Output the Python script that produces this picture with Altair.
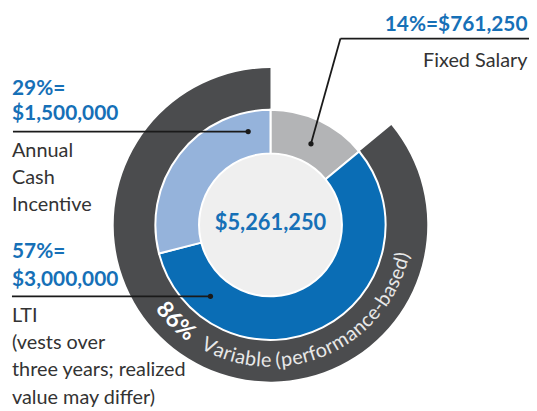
import math
import altair as alt
import pandas as pd

# ---------------- data ----------------
categories = ["Fixed Salary", "LTI", "Annual Cash Incentive"]
percents = [14, 57, 29]
amounts = [761250, 3000000, 1500000]
total_comp = 5261250
variable_pct = 86
variable_label = "Variable (performance-based)"
aci_lines = ["Annual", "Cash", "Incentive"]
lti_lines = ["LTI", "(vests over", "three years; realized", "value may differ)"]
fixed_lines = ["Fixed Salary"]

# ---------------- styles ----------------
FONT = "Lato"
BLUE_TEXT = "#1670b7"
DARK_TEXT = "#333333"
RING_COLORS = ["#b3b4b6", "#0a6db5", "#95b3db"]
DARK_RING = "#4b4c4e"
CENTER_FILL = "#efefef"
TAU = 2 * math.pi
CX, CY = 264.5, 217

# ---------------- rings ----------------
ring_df = pd.DataFrame({"cat": categories, "pct": percents, "idx": [0, 1, 2]})

outer = alt.Chart(pd.DataFrame({"start": [percents[0]], "end": [100]})).mark_arc(
    x=CX, y=CY, radius=158, radius2=116, color=DARK_RING
).encode(
    theta=alt.Theta("start:Q", scale=alt.Scale(domain=[0, 100], range=[0, TAU])),
    theta2="end:Q",
)

inner = alt.Chart(ring_df).mark_arc(
    x=CX, y=CY, radius=116, radius2=72, stroke="white", strokeWidth=2
).encode(
    theta=alt.Theta("pct:Q", stack=True, scale=alt.Scale(domain=[0, 100], range=[0, TAU])),
    color=alt.Color("cat:N", scale=alt.Scale(domain=categories, range=RING_COLORS), legend=None),
    order=alt.Order("idx:Q"),
)

disk = alt.Chart(pd.DataFrame({"v": [1]})).mark_arc(
    x=CX, y=CY, radius=71, color=CENTER_FILL
).encode(
    theta=alt.Theta("v:Q", scale=alt.Scale(domain=[0, 1], range=[0, TAU])),
)

# ---------------- curved text ----------------
W_REG = {" ": .19, "a": .50, "b": .56, "c": .46, "d": .56, "e": .53, "f": .32, "i": .24,
         "l": .24, "m": .84, "n": .56, "o": .57, "p": .56, "r": .37, "s": .43, "V": .67,
         "(": .30, ")": .30, "-": .33}
W_BOLD = {"8": .58, "6": .58, "%": .80}


def arc_layout(text, widths, size, start_deg, r):
    rows, s = [], 0.0
    for ch in text:
        w = widths.get(ch, .5) * size
        mid = s + w / 2
        th = start_deg - math.degrees(mid / r)
        if ch != " ":
            rows.append({"ch": ch, "th": th % 360, "ang": (th - 180) % 360})
        s += w
    return pd.DataFrame(rows)


R_TXT = 137
bold_df = arc_layout(f"{variable_pct}%", W_BOLD, 23, 234.0, R_TXT)
reg_df = arc_layout(variable_label, W_REG, 20, 209.8, R_TXT)


def curved(df, size, weight, color):
    return alt.Chart(df).mark_text(
        x=CX, y=CY, font=FONT, fontSize=size, fontWeight=weight, color=color,
        align="center", baseline="middle"
    ).encode(
        theta=alt.Theta("th:Q", stack=False, scale=alt.Scale(domain=[0, 360], range=[0, TAU])),
        radius=alt.value(R_TXT),
        angle=alt.Angle("ang:Q", scale=None),
        text="ch:N",
    )


curved_bold = curved(bold_df, 23, "bold", "#ffffff")
curved_reg = curved(reg_df, 20, "normal", "#e8e8e8")

# ---------------- leader lines ----------------
LINE = "#1a1a1a"


def rule(x, y, x2, y2):
    return alt.Chart().mark_rule(color=LINE, strokeWidth=1.8).encode(
        x=alt.value(x), y=alt.value(y), x2=alt.value(x2), y2=alt.value(y2))


def dot(x, y):
    return alt.Chart().mark_circle(color=LINE, size=28, opacity=1).encode(
        x=alt.value(x), y=alt.value(y))


def label(txt, x, y, size, weight, color, align="left"):
    return alt.Chart().mark_text(
        font=FONT, fontSize=size, fontWeight=weight, color=color,
        align=align, baseline="alphabetic"
    ).encode(x=alt.value(x), y=alt.value(y), text=alt.value(txt))


leaders = [
    rule(5, 123, 242, 123), dot(242, 123),
    rule(4, 289, 204, 289), dot(204, 289),
    rule(335, 29.3, 525, 29.3), rule(335, 29.3, 305.3, 135.3), dot(305.3, 135.3),
]

RIGHT_X = 523.5
texts = [
    # center total
    label(f"${total_comp:,}", CX, 221.8, 22, "bold", BLUE_TEXT, "center"),
    # fixed salary
    label(f"{percents[0]}%=${amounts[0]:,}", RIGHT_X, 21.3, 21, "bold", BLUE_TEXT, "right"),
    label(fixed_lines[0], RIGHT_X, 57.5, 20, "normal", DARK_TEXT, "right"),
    # annual cash incentive
    label(f"{percents[2]}%=", 4, 86, 21, "bold", BLUE_TEXT),
    label(f"${amounts[2]:,}", 4, 111.3, 21, "bold", BLUE_TEXT),
    # LTI
    label(f"{percents[1]}%=", 4, 250.5, 21, "bold", BLUE_TEXT),
    label(f"${amounts[1]:,}", 4, 278.7, 21, "bold", BLUE_TEXT),
]
for i, t in enumerate(aci_lines):
    texts.append(label(t, 4, 148.7 + i * 27, 20, "normal", DARK_TEXT))
for i, t in enumerate(lti_lines):
    texts.append(label(t, 4, 314.5 + i * 27.6, 20, "normal", DARK_TEXT))

chart = alt.layer(
    outer, inner, disk, *leaders, *texts, curved_bold, curved_reg
).resolve_scale(
    theta="independent", color="independent"
).properties(
    width=525, height=403, padding=0, autosize="none", background="white"
).configure_view(stroke=None)

chart.save("out.html", embed_options={"renderer": "svg", "actions": False})
